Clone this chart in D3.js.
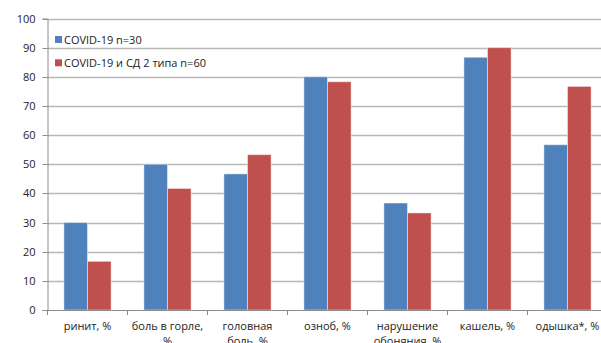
<!DOCTYPE html>
<html><head><meta charset="utf-8">
<script src="https://cdn.jsdelivr.net/npm/d3@7"></script>
<style>body{margin:0;background:#fff;overflow:hidden}svg{display:block}text{font-family:"Open Sans",sans-serif;fill:#222}</style>
</head><body><svg id="c" width="601" height="343"></svg>
<script>
const categories = [["ринит, %"],["боль в горле,","%"],["головная","боль, %"],["озноб, %"],["нарушение","обоняния, %"],["кашель, %"],["одышка*, %"]];
const seriesNames = ["COVID-19 n=30","COVID-19 и СД 2 типа n=60"];
const covid = [30, 50, 46.7, 80, 36.7, 86.7, 56.7];
const covidDiabetes = [16.7, 41.7, 53.3, 78.3, 33.3, 90, 76.7];
const yTicks = [0,10,20,30,40,50,60,70,80,90,100];
const colors = ["#4f81bd","#c0504d"];

(function(){
const svg = d3.select("#c");
const pL = 47.5, pR = 607.5, pT = 18.5, pB = 310;
const idx = d3.range(categories.length);
const x0 = d3.scaleBand().domain(idx).range([pL,pR]).paddingInner(0.41).paddingOuter(0.205);
const x1 = d3.scaleBand().domain([0,1]).range([0,x0.bandwidth()]);
const y = d3.scaleLinear().domain([0,100]).range([pB,pT]);

// gridlines
svg.append("g").selectAll("line").data(yTicks.filter(d=>d>0)).join("line")
  .attr("x1",pL).attr("x2",601).attr("y1",d=>Math.round(y(d))+0.5).attr("y2",d=>Math.round(y(d))+0.5)
  .attr("stroke","#b8b8b8").attr("stroke-width",1.3);

// y axis
const ya = svg.append("g").attr("transform",`translate(${pL},0)`)
  .call(d3.axisLeft(y).tickValues(yTicks).tickSize(5).tickPadding(7));
ya.select(".domain").attr("stroke","#8c8c8c");
ya.selectAll(".tick line").attr("stroke","#8c8c8c");
ya.selectAll(".tick text").style("font-size","11px").attr("fill","#222").style("font-family","'Open Sans',sans-serif");
ya.selectAll(".tick").attr("transform",d=>`translate(0,${Math.round(y(d))+0.5})`);

// bars
const series = [covid, covidDiabetes];
series.forEach((vals,si)=>{
  svg.append("g").selectAll("rect").data(vals).join("rect")
    .attr("x",(d,i)=>x0(i)+x1(si)).attr("width",x1.bandwidth())
    .attr("y",d=>y(d)).attr("height",d=>pB-y(d))
    .attr("fill",colors[si]).attr("stroke","rgba(255,255,255,0.45)").attr("stroke-width",1);
});

// x axis
svg.append("line").attr("x1",pL).attr("x2",601).attr("y1",pB+0.5).attr("y2",pB+0.5).attr("stroke","#8c8c8c");
const step = x0.step();
svg.append("g").selectAll("line").data(d3.range(categories.length+1)).join("line")
  .attr("x1",d=>pL+d*step).attr("x2",d=>pL+d*step).attr("y1",pB).attr("y2",pB+5).attr("stroke","#8c8c8c");
const lab = svg.append("g").selectAll("text").data(categories).join("text")
  .attr("text-anchor","middle").style("font-size","11px")
  .attr("x",(d,i)=>x0(i)+x0.bandwidth()/2).attr("y",330);
lab.selectAll("tspan").data(d=>d).join("tspan")
  .attr("x",function(){return this.parentNode.getAttribute("x");})
  .attr("dy",(d,j)=>j===0?0:15).text(d=>d);

// legend
const lg = svg.append("g").selectAll("g").data(seriesNames).join("g")
  .attr("transform",(d,i)=>`translate(55,${36+i*23.3})`);
lg.append("rect").attr("width",7).attr("height",7).attr("fill",(d,i)=>colors[i]);
lg.append("text").attr("x",9).attr("y",7.5).style("font-size","11px").text(d=>d);
})();
</script></body></html>
